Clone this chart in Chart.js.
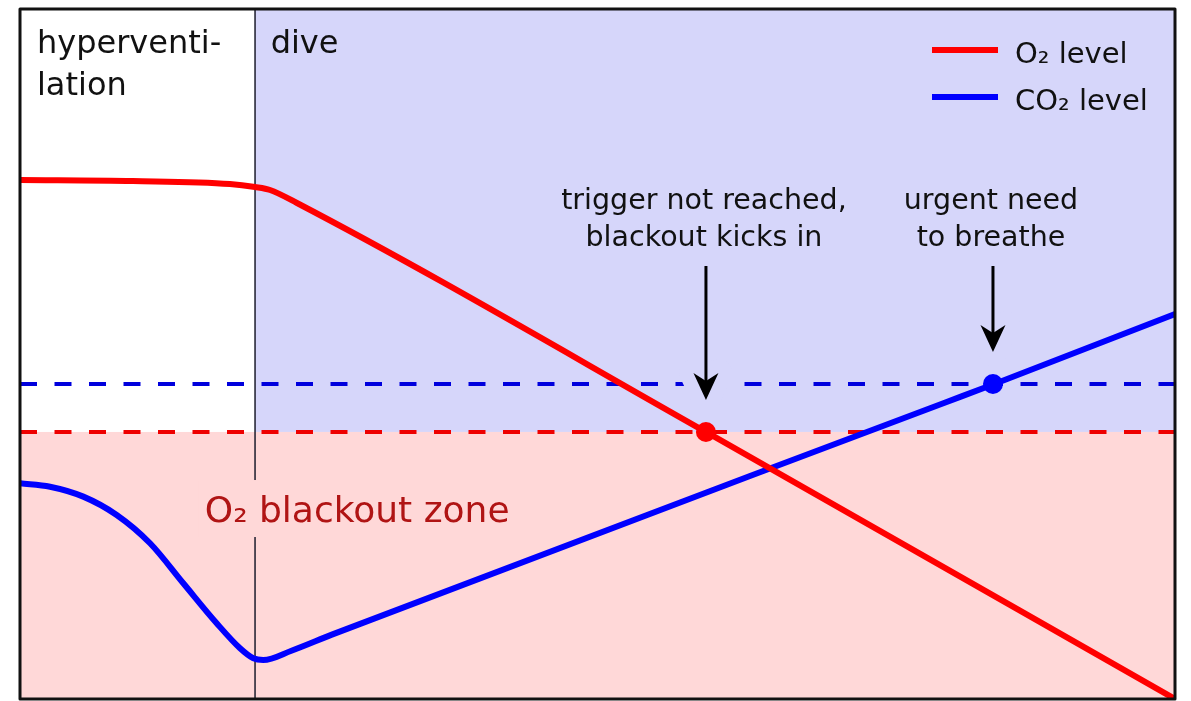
<!DOCTYPE html>
<html>
<head>
<meta charset="utf-8">
<script src="https://cdn.jsdelivr.net/npm/chart.js@4/dist/chart.umd.min.js"></script>
<style>
  html, body { margin: 0; padding: 0; background: #ffffff; overflow: hidden; }
  #wrap { width: 1191px; height: 701px; position: relative; }
  #c { display: block; }
</style>
</head>
<body>
<div id="wrap"><canvas id="c"></canvas></div>
<script>
// ---- data (abstract time / level units, 0..100) ----
const o2X  = [0, 9.78, 18.18, 20.35, 21.65, 23.98, 59.39, 100];
const o2Y  = [75.22, 75.07, 74.64, 74.2, 73.77, 71.88, 38.7, 0];
const co2X = [0, 2.60, 5.48, 8.37, 11.26, 14.14, 17.03, 19.05, 20.20, 21.06, 23.5, 27.0, 80.0, 84.24, 100];
const co2Y = [31.26, 30.77, 29.33, 26.67, 22.57, 16.77, 10.97, 7.35, 5.90, 5.65, 7.0, 9.33, 42.9, 45.58, 55.8];
const diveStartX = 20.35;
const o2Threshold = 38.7;
const co2Threshold = 45.65;
const eventX = [59.39, 84.24];
const eventY = [38.7, 45.65];
const eventColors = ['#ff0000', '#0000ff'];
const eventTexts = [["trigger not reached,", "blackout kicks in"], ["urgent need", "to breathe"]];
const arrowTopY = 62.75;
const phaseLabels = [["hyperventi-", "lation"], ["dive"]];
const phaseX = [1.47, 21.7];
const phaseY = 93.6;
const zoneLabel = "O\u2082 blackout zone";
const zoneLabelX = 16.0;
const zoneLabelY = 25.65;
const seriesLabels = ["O\u2082 level", "CO\u2082 level"];

const toPts = (xs, ys) => xs.map((x, i) => ({x: x, y: ys[i]}));

const FONT = "'DejaVu Sans', 'Liberation Sans', sans-serif";
const LAVENDER = 'rgb(214,214,250)';
const PINK = 'rgb(255,216,216)';

const scene = {
  id: 'scene',
  beforeDatasetsDraw(chart) {
    const ctx = chart.ctx, xs = chart.scales.x, ys = chart.scales.y, a = chart.chartArea;
    ctx.save();
    const yT = ys.getPixelForValue(o2Threshold);
    const xD = xs.getPixelForValue(diveStartX);
    ctx.fillStyle = LAVENDER;
    ctx.fillRect(xD, a.top, a.right - xD, yT - a.top);
    ctx.fillStyle = PINK;
    ctx.fillRect(a.left, yT, a.right - a.left, a.bottom - yT);
    ctx.strokeStyle = '#1c1c2c';
    ctx.lineWidth = 1.5;
    ctx.beginPath();
    ctx.moveTo(xD, a.top);
    ctx.lineTo(xD, a.bottom);
    ctx.stroke();
    ctx.font = '36px ' + FONT;
    const zx = xs.getPixelForValue(zoneLabelX), zy = ys.getPixelForValue(zoneLabelY);
    const w = ctx.measureText(zoneLabel).width;
    ctx.fillStyle = PINK;
    ctx.fillRect(zx - 6, zy - 42, w + 12, 57);
    ctx.fillStyle = '#b01414';
    ctx.textBaseline = 'alphabetic';
    ctx.textAlign = 'left';
    ctx.fillText(zoneLabel, zx, zy);
    ctx.restore();
  },
  afterDatasetsDraw(chart) {
    const ctx = chart.ctx, xs = chart.scales.x, ys = chart.scales.y, a = chart.chartArea;
    ctx.save();
    eventX.forEach((ex, i) => {
      const px = xs.getPixelForValue(ex);
      const tip = ys.getPixelForValue(eventY[i]) - 32;
      const top = ys.getPixelForValue(arrowTopY);
      const headL = 27, headW = 12.5, notch = 19;
      const head = () => {
        ctx.beginPath();
        ctx.moveTo(px, tip);
        ctx.lineTo(px - headW, tip - headL);
        ctx.lineTo(px, tip - notch);
        ctx.lineTo(px + headW, tip - headL);
        ctx.closePath();
      };
      ctx.lineJoin = 'round';
      ctx.strokeStyle = LAVENDER;
      ctx.lineWidth = 28;
      head(); ctx.stroke();
      ctx.strokeStyle = '#000';
      ctx.lineWidth = 3;
      ctx.beginPath();
      ctx.moveTo(px, top);
      ctx.lineTo(px, tip - notch + 1);
      ctx.stroke();
      ctx.fillStyle = '#000';
      head(); ctx.fill();
      ctx.font = '28.5px ' + FONT;
      ctx.fillStyle = '#111';
      ctx.textAlign = 'center';
      ctx.textBaseline = 'alphabetic';
      const lines = eventTexts[i];
      ctx.fillText(lines[0], px - 2, top - 57);
      ctx.fillText(lines[1], px - 2, top - 20);
    });
    ctx.font = '32px ' + FONT;
    ctx.fillStyle = '#111';
    ctx.textAlign = 'left';
    phaseLabels.forEach((lines, i) => {
      const px = xs.getPixelForValue(phaseX[i]);
      const py = ys.getPixelForValue(phaseY);
      lines.forEach((t, j) => ctx.fillText(t, px, py + j * 42));
    });
    ctx.font = '29px ' + FONT;
    chart.data.datasets.filter(d => d.inLegend).forEach((d, i) => {
      const y = a.top + 41 + i * 47;
      ctx.strokeStyle = d.borderColor;
      ctx.lineWidth = 6;
      ctx.lineCap = 'butt';
      ctx.beginPath();
      ctx.moveTo(a.right - 243, y);
      ctx.lineTo(a.right - 177, y);
      ctx.stroke();
      ctx.fillStyle = '#111';
      ctx.fillText(d.label, a.right - 160, y + 13);
    });
    ctx.strokeStyle = '#111';
    ctx.lineWidth = 3;
    ctx.strokeRect(a.left, a.top, a.right - a.left, a.bottom - a.top);
    ctx.restore();
  }
};

new Chart(document.getElementById('c'), {
  type: 'scatter',
  data: {
    datasets: [
      { label: seriesLabels[0], inLegend: true, data: toPts(o2X, o2Y), showLine: true,
        borderColor: '#ff0000', borderWidth: 6, pointRadius: 0, cubicInterpolationMode: 'monotone', order: 1 },
      { label: seriesLabels[1], inLegend: true, data: toPts(co2X, co2Y), showLine: true,
        borderColor: '#0000ff', borderWidth: 6, pointRadius: 0, cubicInterpolationMode: 'monotone', order: 2 },
      { label: 'O2 threshold', data: [{x: 0, y: o2Threshold}, {x: 100, y: o2Threshold}], showLine: true,
        borderColor: '#ee0000', borderWidth: 4, borderDash: [17, 17.5], pointRadius: 0, order: 3 },
      { label: 'CO2 threshold', data: [{x: 0, y: co2Threshold}, {x: 100, y: co2Threshold}], showLine: true,
        borderColor: '#0000dd', borderWidth: 4, borderDash: [17, 17.5], pointRadius: 0, order: 3 },
      { label: 'events', data: toPts(eventX, eventY), showLine: false,
        pointRadius: 10, pointBackgroundColor: eventColors, pointBorderWidth: 0, borderColor: 'transparent', order: 0 }
    ]
  },
  options: {
    responsive: true,
    maintainAspectRatio: false,
    animation: false,
    events: [],
    layout: { autoPadding: false, padding: { left: 20, top: 9, right: 16, bottom: 2 } },
    scales: {
      x: { type: 'linear', min: 0, max: 100, display: false },
      y: { type: 'linear', min: 0, max: 100, display: false }
    },
    plugins: { legend: { display: false }, tooltip: { enabled: false } }
  },
  plugins: [scene]
});
</script>
</body>
</html>
